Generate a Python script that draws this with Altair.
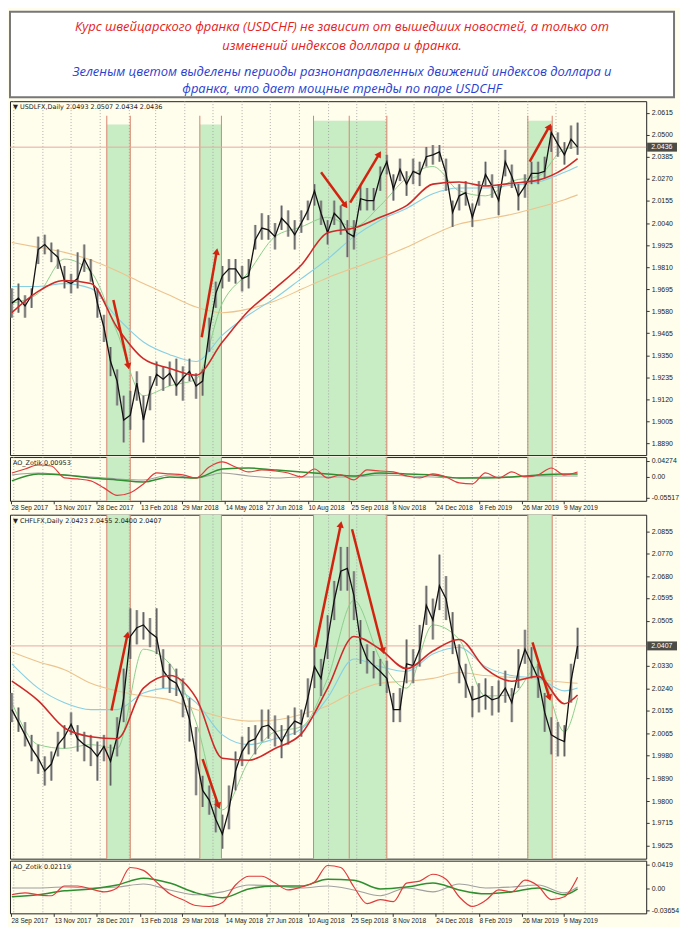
import altair as alt
import pandas as pd

# ---------------- texts ----------------
TITLE_RED = ["Курс швейцарского франка (USDCHF) не зависит от вышедших новостей, а только от",
             "изменений индексов доллара и франка."]
TITLE_BLUE = ["Зеленым цветом выделены периоды разнонаправленных движений индексов доллара и",
              "франка, что дает мощные тренды по паре USDCHF"]
HEADER1 = "▼ USDLFX,Daily  2.0493 2.0507 2.0434 2.0436"
HEADER2 = "▼ CHFLFX,Daily  2.0423 2.0455 2.0400 2.0407"
OSC1_LABEL = "AO_Zotik 0.00953"
OSC2_LABEL = "AO_Zotik 0.02119"

# ---------------- axis ticks ----------------
DATE_TICKS = ["2017-09-28", "2017-11-13", "2017-12-28", "2018-02-13", "2018-03-29", "2018-05-14",
              "2018-06-27", "2018-08-10", "2018-09-25", "2018-11-08", "2018-12-24", "2019-02-08",
              "2019-03-26", "2019-05-09"]
GRID_MONTHS = ["2017-10-01", "2017-11-01", "2017-12-01", "2018-01-01", "2018-02-01", "2018-03-01",
               "2018-04-01", "2018-05-01", "2018-06-01", "2018-07-01", "2018-08-01", "2018-09-01",
               "2018-10-01", "2018-11-01", "2018-12-01", "2019-01-01", "2019-02-01", "2019-03-01",
               "2019-04-01", "2019-05-01", "2019-06-01"]
P1_TICKS = [2.0615, 2.0500, 2.0385, 2.0270, 2.0155, 2.0040, 1.9925, 1.9810, 1.9695, 1.9580,
            1.9465, 1.9350, 1.9235, 1.9120, 1.9005, 1.8890]
P2_TICKS = [2.0855, 2.0770, 2.0680, 2.0595, 2.0505, 2.0330, 2.0240, 2.0155, 2.0065, 1.9980,
            1.9890, 1.9800, 1.9715, 1.9625]
O1_TICKS = [0.04274, 0.0, -0.05517]
O2_TICKS = [0.0419, 0.0, -0.03654]
LAST1 = 2.0436
LAST2 = 2.0407

# ---------------- highlighted periods ----------------
BAND_START = ["2018-01-08", "2018-04-17", "2018-08-16", "2019-04-01"]
BAND_END = ["2018-02-02", "2018-05-10", "2018-11-02", "2019-04-27"]
BAND_TOP1 = [2.0554, 2.0554, 2.0574, 2.0574]
VLINES = ["2018-01-08", "2018-02-02", "2018-04-17", "2018-05-10", "2018-08-16", "2018-09-23",
          "2018-11-02", "2019-04-01", "2019-04-27"]
VLINE_TOP1 = 2.0600

# ---------------- weekly price data ----------------
WEEK_START = "2017-09-29"
P1_CLOSE = [1.9622, 1.9648, 1.9607, 1.9663, 1.9902, 1.9928, 1.9892, 1.9862, 1.9740, 1.9724,
            1.9750, 1.9852, 1.9785, 1.9622, 1.9495, 1.9317, 1.9215, 1.9012, 1.9037, 1.9205,
            1.9012, 1.9164, 1.9251, 1.9225, 1.9256, 1.9190, 1.9231, 1.9266, 1.9190, 1.9215,
            1.9470, 1.9673, 1.9765, 1.9801, 1.9801, 1.9750, 1.9765, 1.9953, 2.0014, 2.0004,
            1.9969, 2.0065, 2.0030, 1.9979, 2.0040, 2.0106, 2.0208, 2.0091, 1.9989, 2.0091,
            2.0055, 1.9989, 1.9969, 2.0167, 2.0157, 2.0157, 2.0284, 2.0360, 2.0218, 2.0320,
            2.0243, 2.0310, 2.0294, 2.0386, 2.0396, 2.0411, 2.0299, 2.0096, 2.0182, 2.0198,
            2.0070, 2.0182, 2.0294, 2.0233, 2.0157, 2.0360, 2.0284, 2.0182, 2.0233, 2.0299,
            2.0299, 2.0310, 2.0513, 2.0452, 2.0396, 2.0478, 2.0436]
P1_HIGH = [1.9699, 1.9724, 1.9663, 1.9699, 1.9969, 1.9979, 1.9938, 1.9902, 1.9816, 1.9775,
           1.9887, 1.9928, 1.9852, 1.9699, 1.9561, 1.9393, 1.9276, 1.9139, 1.9164, 1.9266,
           1.9139, 1.9241, 1.9317, 1.9292, 1.9317, 1.9332, 1.9292, 1.9332, 1.9256, 1.9276,
           1.9546, 1.9734, 1.9816, 1.9852, 1.9852, 1.9816, 1.9852, 2.0030, 2.0091, 2.0081,
           2.0040, 2.0131, 2.0106, 2.0055, 2.0106, 2.0157, 2.0243, 2.0157, 2.0055, 2.0157,
           2.0131, 2.0055, 2.0055, 2.0233, 2.0223, 2.0223, 2.0335, 2.0396, 2.0294, 2.0376,
           2.0310, 2.0376, 2.0360, 2.0437, 2.0447, 2.0447, 2.0376, 2.0157, 2.0243, 2.0259,
           2.0142, 2.0259, 2.0360, 2.0294, 2.0243, 2.0422, 2.0345, 2.0243, 2.0294, 2.0360,
           2.0360, 2.0386, 2.0549, 2.0513, 2.0462, 2.0549, 2.0564]
P1_LOW = [1.9546, 1.9572, 1.9546, 1.9597, 1.9826, 1.9877, 1.9836, 1.9801, 1.9699, 1.9673,
          1.9699, 1.9785, 1.9734, 1.9546, 1.9419, 1.9241, 1.9088, 1.8895, 1.8961, 1.9113,
          1.8895, 1.9063, 1.9190, 1.9164, 1.9190, 1.9139, 1.9113, 1.9215, 1.9123, 1.9139,
          1.9368, 1.9597, 1.9699, 1.9734, 1.9724, 1.9683, 1.9699, 1.9902, 1.9953, 1.9953,
          1.9902, 2.0004, 1.9969, 1.9902, 1.9989, 2.0055, 2.0131, 2.0030, 1.9928, 2.0030,
          1.9979, 1.9862, 1.9902, 2.0106, 2.0106, 2.0106, 2.0208, 2.0294, 2.0157, 2.0259,
          2.0182, 2.0243, 2.0233, 2.0335, 2.0345, 2.0360, 2.0208, 2.0020, 2.0106, 2.0131,
          2.0020, 2.0131, 2.0233, 2.0172, 2.0081, 2.0284, 2.0223, 2.0106, 2.0172, 2.0243,
          2.0243, 2.0274, 2.0411, 2.0386, 2.0345, 2.0427, 2.0396]

P2_CLOSE = [2.0158, 2.0109, 2.0059, 2.0006, 1.9968, 1.9918, 1.9945, 2.0021, 2.0052, 2.0101,
            2.0044, 2.0021, 2.0006, 1.9975, 2.0014, 1.9956, 2.0052, 2.0204, 2.0444, 2.0478,
            2.0489, 2.0459, 2.0440, 2.0310, 2.0276, 2.0261, 2.0204, 2.0120, 1.9975, 1.9842,
            1.9804, 1.9728, 1.9671, 1.9766, 1.9918, 1.9994, 2.0033, 2.0044, 2.0090, 2.0097,
            2.0071, 2.0033, 2.0082, 2.0113, 2.0101, 2.0204, 2.0326, 2.0280, 2.0432, 2.0585,
            2.0699, 2.0710, 2.0604, 2.0421, 2.0356, 2.0330, 2.0307, 2.0280, 2.0158, 2.0158,
            2.0337, 2.0330, 2.0394, 2.0566, 2.0508, 2.0642, 2.0592, 2.0451, 2.0337, 2.0269,
            2.0196, 2.0204, 2.0215, 2.0196, 2.0204, 2.0242, 2.0185, 2.0310, 2.0394, 2.0337,
            2.0280, 2.0147, 2.0059, 2.0044, 2.0033, 2.0269, 2.0407]
P2_HIGH = [2.0223, 2.0166, 2.0109, 2.0059, 2.0021, 1.9975, 1.9994, 2.0071, 2.0097, 2.0147,
           2.0097, 2.0071, 2.0059, 2.0033, 2.0059, 2.0021, 2.0128, 2.0318, 2.0554, 2.0547,
           2.0539, 2.0516, 2.0554, 2.0394, 2.0337, 2.0318, 2.0280, 2.0204, 2.0090, 1.9899,
           1.9861, 1.9804, 1.9747, 1.9861, 1.9994, 2.0052, 2.0090, 2.0097, 2.0158, 2.0158,
           2.0135, 2.0097, 2.0135, 2.0166, 2.0158, 2.0280, 2.0402, 2.0356, 2.0527, 2.0661,
           2.0794, 2.0794, 2.0699, 2.0508, 2.0413, 2.0387, 2.0356, 2.0349, 2.0223, 2.0242,
           2.0432, 2.0394, 2.0489, 2.0642, 2.0592, 2.0764, 2.0680, 2.0539, 2.0413, 2.0337,
           2.0250, 2.0261, 2.0280, 2.0250, 2.0272, 2.0310, 2.0242, 2.0394, 2.0470, 2.0402,
           2.0337, 2.0223, 2.0128, 2.0109, 2.0097, 2.0337, 2.0478]
P2_LOW = [2.0109, 2.0071, 2.0014, 1.9956, 1.9907, 1.9861, 1.9880, 1.9975, 2.0006, 2.0059,
          1.9994, 1.9956, 1.9937, 1.9880, 1.9956, 1.9861, 1.9975, 2.0109, 2.0356, 2.0413,
          2.0432, 2.0402, 2.0375, 2.0242, 2.0223, 2.0211, 2.0128, 2.0033, 1.9823, 1.9777,
          1.9747, 1.9678, 1.9614, 1.9690, 1.9842, 1.9937, 1.9983, 1.9983, 2.0033, 2.0044,
          2.0014, 1.9968, 2.0021, 2.0059, 2.0052, 2.0128, 2.0242, 2.0211, 2.0356, 2.0508,
          2.0623, 2.0623, 2.0508, 2.0337, 2.0299, 2.0280, 2.0250, 2.0223, 2.0109, 2.0109,
          2.0261, 2.0261, 2.0326, 2.0489, 2.0432, 2.0547, 2.0508, 2.0375, 2.0261, 2.0204,
          2.0128, 2.0147, 2.0158, 2.0135, 2.0147, 2.0185, 2.0109, 2.0242, 2.0337, 2.0280,
          2.0204, 2.0071, 1.9983, 1.9975, 1.9975, 2.0185, 2.0356]

# moving averages, read every 4th week (+ last week)
P1_MA_RED = [1.9572, 1.9683, 1.9740, 1.9724, 1.9495, 1.9332, 1.9281, 1.9246, 1.9419, 1.9582, 1.9699,
             1.9821, 1.9989, 2.0014, 2.0070, 2.0131, 2.0243, 2.0254, 2.0233, 2.0248, 2.0264, 2.0325, 2.0376]
P1_MA_BLUE = [1.9709, 1.9709, 1.9724, 1.9699, 1.9546, 1.9419, 1.9353, 1.9317, 1.9455, 1.9561, 1.9648,
              1.9750, 1.9852, 1.9969, 2.0055, 2.0116, 2.0193, 2.0223, 2.0223, 2.0238, 2.0254, 2.0305, 2.0335]
P1_MA_ORANGE = [1.9938, 1.9913, 1.9887, 1.9847, 1.9790, 1.9724, 1.9663, 1.9602, 1.9572, 1.9592, 1.9633,
                1.9694, 1.9755, 1.9806, 1.9857, 1.9913, 1.9979, 2.0035, 2.0060, 2.0086, 2.0121, 2.0162, 2.0187]
P1_MA_GREEN = [1.9622, 1.9673, 1.9852, 1.9785, 1.9470, 1.9139, 1.9190, 1.9225, 1.9622, 1.9785, 1.9969,
               2.0020, 2.0070, 2.0020, 2.0131, 2.0274, 2.0335, 2.0208, 2.0182, 2.0259, 2.0284, 2.0427, 2.0437]
P2_MA_RED = [2.0269, 2.0193, 2.0086, 2.0052, 2.0044, 2.0242, 2.0291, 2.0204, 1.9968, 1.9960, 2.0006,
             2.0063, 2.0242, 2.0444, 2.0394, 2.0318, 2.0387, 2.0432, 2.0318, 2.0269, 2.0288, 2.0181, 2.0215]
P2_MA_BLUE = [2.0337, 2.0242, 2.0185, 2.0158, 2.0158, 2.0223, 2.0242, 2.0185, 2.0059, 2.0021, 2.0044,
              2.0082, 2.0204, 2.0356, 2.0326, 2.0307, 2.0375, 2.0402, 2.0326, 2.0291, 2.0280, 2.0231, 2.0242]
P2_MA_ORANGE = [2.0383, 2.0345, 2.0314, 2.0261, 2.0231, 2.0211, 2.0196, 2.0158, 2.0128, 2.0113, 2.0117,
                2.0139, 2.0173, 2.0227, 2.0261, 2.0269, 2.0280, 2.0303, 2.0291, 2.0284, 2.0276, 2.0265, 2.0261]
P2_MA_GREEN = [2.0185, 2.0021, 2.0006, 2.0021, 2.0006, 2.0394, 2.0337, 2.0109, 1.9766, 1.9956, 2.0071,
               2.0090, 2.0280, 2.0585, 2.0356, 2.0242, 2.0489, 2.0432, 2.0211, 2.0215, 2.0326, 2.0071, 2.0204]

# oscillators: red read every 2nd week, green/gray every 4th week (+ last)
O1_RED = [0.0106, 0.0212, 0.0318, 0.0292, -0.0027, -0.0053, -0.0106, -0.0292, -0.0490, -0.0420,
          -0.0186, 0.0106, 0.0080, 0.0053, -0.0027, 0.0265, 0.0400, 0.0265, 0.0133, 0.0186,
          0.0159, 0.0106, 0.0, 0.0212, -0.0027, 0.0053, -0.0080, 0.0186, 0.0159, 0.0133,
          0.0027, -0.0027, 0.0080, 0.0, -0.0159, -0.0186, 0.0106, -0.0027, 0.0133, 0.0,
          0.0053, 0.0239, 0.0053, 0.0133]
O1_GREEN = [-0.0106, 0.0080, 0.0053, -0.0027, -0.0080, -0.0133, 0.0, -0.0027, 0.0212, 0.0239, 0.0186,
            0.0133, 0.0080, 0.0027, 0.0106, 0.0080, 0.0053, -0.0027, -0.0027, 0.0, 0.0053, 0.0080, 0.0080]
O1_GRAY = [0.0053, 0.0106, 0.0053, 0.0, -0.0053, -0.0080, 0.0053, -0.0027, 0.0106, 0.0027, -0.0027,
           0.0, 0.0, 0.0, 0.0053, 0.0027, 0.0, -0.0027, 0.0, 0.0, 0.0027, 0.0027, 0.0027]
O2_RED = [-0.0100, -0.0067, -0.0100, -0.0117, 0.0050, 0.0050, 0.0, -0.0050, 0.0017, 0.0367,
          0.0317, 0.0117, -0.0084, -0.0184, -0.0284, -0.0301, -0.0234, 0.0067, 0.0217, 0.0217,
          0.0100, -0.0017, 0.0033, 0.0117, 0.0401, 0.0367, 0.0033, -0.0251, -0.0184, -0.0217,
          0.0100, 0.0134, 0.0251, 0.0167, -0.0134, -0.0301, -0.0200, -0.0017, -0.0050, 0.0150,
          0.0050, -0.0184, -0.0134, 0.0200]
O2_GREEN = [-0.0134, -0.0100, -0.0033, 0.0, 0.0067, 0.0184, 0.0100, -0.0067, -0.0150, 0.0, 0.0050,
            0.0050, 0.0167, 0.0150, 0.0, 0.0033, 0.0100, -0.0017, -0.0084, -0.0050, 0.0017, -0.0100, 0.0]
O2_GRAY = [0.0017, 0.0017, 0.0033, 0.0017, 0.0033, 0.0084, -0.0017, -0.0100, -0.0050, 0.0067, 0.0050,
           0.0017, 0.0050, -0.0017, -0.0117, 0.0017, -0.0050, 0.0084, 0.0017, 0.0033, 0.0067, -0.0067, 0.0033]

# trend arrows (start/end date and price)
A1_X = ["2018-01-15", "2018-04-19", "2018-08-24", "2018-09-24", "2019-04-03"]
A1_X2 = ["2018-01-31", "2018-05-05", "2018-09-19", "2018-10-25", "2019-04-24"]
A1_Y = [1.9638, 1.9444, 2.0305, 2.0147, 2.0360]
A1_Y2 = [1.9292, 1.9892, 2.0131, 2.0401, 2.0544]
A1_ANGLE = [167, 10, 144, 31, 29]
A2_X = ["2018-01-13", "2018-04-20", "2018-08-18", "2018-09-26", "2019-04-06"]
A2_X2 = ["2018-01-30", "2018-05-07", "2018-09-14", "2018-10-29", "2019-04-24"]
A2_Y = [2.0154, 1.9964, 2.0402, 2.0863, 2.0421]
A2_Y2 = [2.0451, 1.9781, 2.0882, 2.0387, 2.0204]
A2_ANGLE = [12, 160, 12, 166, 162]

# ---------------- layout / style ----------------
W = 640
TW = 668
TH = 86
H1, HO1 = 356, 44
H2, HO2 = 346, 53
DOM1 = [1.8829, 2.0676]
DOMO1 = [-0.0636, 0.0530]
DOM2 = [1.9575, 2.0920]
DOMO2 = [-0.0418, 0.0484]

BG = "#fffdec"
BAND = "#c8ecc4"
VLINE = "#d9826e"
GRID = "#9b9b9b"
PRICE_LINE = "#eaa9a0"
MA_RED = "#cf2a2a"
MA_BLUE = "#86d0e4"
MA_ORANGE = "#ecc48e"
MA_GREEN = "#8ccf8c"
BAR = "#999999"
CLOSE = "#111111"
ARROW = "#d2230f"
OSC_RED = "#e03c3c"
OSC_GREEN = "#2f8f2f"
OSC_GRAY = "#a0a0a0"
FONT = "DejaVu Sans"
AXFONT = "Liberation Sans"

weeks = pd.date_range(WEEK_START, periods=len(P1_CLOSE), freq="7D")
ma_dates = list(weeks[::4]) + [weeks[-1]]
osc_dates = list(weeks[::2])


def dt(s):
    t = pd.Timestamp(s)
    return alt.DateTime(year=t.year, month=t.month, date=t.day)


X_DOMAIN = [alt.DateTime(year=2017, month=9, date=27), alt.DateTime(year=2019, month=8, date=5)]
DATE_AXIS = alt.Axis(values=[dt(s) for s in DATE_TICKS], format="%-d %b %Y", labelAlign="left",
                     labelFlush=False, labelOverlap=False, labelFontSize=6.5, labelFont=AXFONT,
                     labelColor="#222", tickSize=3, tickColor="#333", domain=False, grid=False,
                     labelPadding=1)


def X(field, axis):
    return alt.X(field, type="temporal", scale=alt.Scale(domain=X_DOMAIN), axis=axis, title=None)


def X2(field):
    return alt.X2(field)


def Y(field, dom, axis):
    return alt.Y(field, type="quantitative", scale=alt.Scale(domain=dom, nice=False, zero=False),
                 axis=axis, title=None)


def price_axis(ticks):
    return alt.Axis(orient="right", values=ticks, format=".4f", labelFontSize=7, labelFont=AXFONT,
                    labelColor="#222", tickSize=3, tickColor="#333", domain=False, grid=False,
                    labelPadding=2, labelOverlap=False)


def osc_axis(ticks):
    return alt.Axis(orient="right", values=ticks,
                    labelExpr="datum.value == 0 ? '0.00' : toString(datum.value)",
                    labelFontSize=7, labelFont=AXFONT, labelColor="#222", tickSize=3,
                    tickColor="#333", domain=False, grid=False, labelPadding=2, labelOverlap=False)


def ts(lst):
    return pd.to_datetime(lst)


bands_df = pd.DataFrame({"s": ts(BAND_START), "e": ts(BAND_END), "top": BAND_TOP1})
vl_df = pd.DataFrame({"d": ts(VLINES), "top": [VLINE_TOP1] * len(VLINES)})
grid_df = pd.DataFrame({"d": ts(GRID_MONTHS)})


def main_panel(close, high, low, ma_r, ma_b, ma_o, ma_g, last, header, ticks, dom, H,
               ax_x, ax_x2, ax_y, ax_y2, ax_ang, band_full):
    yax = price_axis(ticks)
    bars = pd.DataFrame({"d": weeks, "c": close, "h": high, "l": low})
    ma = pd.DataFrame({"d": ma_dates, "r": ma_r, "b": ma_b, "o": ma_o, "g": ma_g})
    arr = pd.DataFrame({"x": ts(ax_x), "x2": ts(ax_x2), "y": ax_y, "y2": ax_y2, "a": ax_ang})
    last_df = pd.DataFrame({"p": [last], "lbl": [f"{last:.4f}"]})

    if band_full:
        band = alt.Chart(bands_df).mark_rect(color=BAND).encode(
            x=X("s", None), x2=X2("e"), y=alt.value(0), y2=alt.value(H))
        vl = alt.Chart(vl_df).mark_rule(color=VLINE, strokeWidth=1).encode(x=X("d", None))
    else:
        band = alt.Chart(bands_df).mark_rect(color=BAND).encode(
            x=X("s", None), x2=X2("e"), y=Y("top", dom, yax), y2=alt.value(H))
        vl = alt.Chart(vl_df).mark_rule(color=VLINE, strokeWidth=1).encode(
            x=X("d", None), y=Y("top", dom, yax), y2=alt.value(H))
    grid = alt.Chart(grid_df).mark_rule(color=GRID, strokeDash=[1, 2], strokeWidth=0.8).encode(
        x=X("d", None))
    pline = alt.Chart(last_df).mark_rule(color=PRICE_LINE, strokeWidth=1).encode(y=Y("p", dom, yax))

    def ma_line(col, color, w):
        return alt.Chart(ma).mark_line(color=color, strokeWidth=w, interpolate="monotone", clip=True).encode(
            x=X("d", None), y=Y(col, dom, yax))

    ranges = alt.Chart(bars).mark_rule(color=BAR, strokeWidth=2.8, opacity=0.8).encode(
        x=X("d", None), y=Y("l", dom, yax), y2="h")
    wicks = alt.Chart(bars).mark_rule(color="#4a4a4a", strokeWidth=0.8).encode(
        x=X("d", None), y=Y("l", dom, yax), y2="h")
    cl = alt.Chart(bars).mark_line(color=CLOSE, strokeWidth=1.3).encode(
        x=X("d", None), y=Y("c", dom, yax))
    shaft = alt.Chart(arr).mark_rule(color=ARROW, strokeWidth=2.5, clip=True).encode(
        x=X("x", None), x2=X2("x2"), y=Y("y", dom, yax), y2="y2")
    head = alt.Chart(arr).mark_point(shape="triangle-up", filled=True, color=ARROW, size=55,
                                     opacity=1).encode(
        x=X("x2", None), y=Y("y2", dom, yax), angle=alt.Angle("a:Q", scale=None))
    hdr = alt.Chart(pd.DataFrame({"t": [header]})).mark_text(
        align="left", baseline="top", fontSize=6.5, font=FONT, color="#222").encode(
        x=alt.value(3), y=alt.value(3), text="t:N")
    tag = alt.Chart(last_df).mark_tick(orient="horizontal", color="#000", size=30, thickness=9).encode(
        x=alt.value(W + 16), y=Y("p", dom, yax))
    tag_t = alt.Chart(last_df).mark_text(align="left", baseline="middle", color="white",
                                         fontSize=7, font=AXFONT).encode(
        x=alt.value(W + 5), y=Y("p", dom, yax), text="lbl:N")

    return alt.layer(band, grid, vl, pline,
                     ma_line("o", MA_ORANGE, 1.1), ma_line("b", MA_BLUE, 1.1),
                     ma_line("g", MA_GREEN, 1.0),
                     ranges, wicks, cl, ma_line("r", MA_RED, 1.6),
                     shaft, head, hdr, tag, tag_t).properties(width=W, height=H)


def osc_panel(red, green, gray, label, ticks, dom, H, with_bands):
    yax = osc_axis(ticks)
    rdf = pd.DataFrame({"d": osc_dates, "v": red})
    gdf = pd.DataFrame({"d": ma_dates, "g": green, "s": gray})
    layers = []
    if with_bands:
        layers.append(alt.Chart(bands_df).mark_rect(color=BAND).encode(
            x=X("s", DATE_AXIS), x2=X2("e"), y=alt.value(0), y2=alt.value(H)))
    layers.append(alt.Chart(grid_df).mark_rule(color=GRID, strokeDash=[1, 2], strokeWidth=0.8).encode(
        x=X("d", DATE_AXIS)))
    if with_bands:
        layers.append(alt.Chart(vl_df).mark_rule(color=VLINE, strokeWidth=1).encode(
            x=X("d", DATE_AXIS)))
    layers.append(alt.Chart(gdf).mark_line(color=OSC_GRAY, strokeWidth=1.1, interpolate="monotone").encode(
        x=X("d", DATE_AXIS), y=Y("s", dom, yax)))
    layers.append(alt.Chart(gdf).mark_line(color=OSC_GREEN, strokeWidth=1.5, interpolate="monotone").encode(
        x=X("d", DATE_AXIS), y=Y("g", dom, yax)))
    layers.append(alt.Chart(rdf).mark_line(color=OSC_RED, strokeWidth=1.2, interpolate="monotone").encode(
        x=X("d", DATE_AXIS), y=Y("v", dom, yax)))
    layers.append(alt.Chart(pd.DataFrame({"t": [label]})).mark_text(
        align="left", baseline="top", fontSize=6.5, font=FONT, color="#222").encode(
        x=alt.value(3), y=alt.value(3), text="t:N"))
    return alt.layer(*layers).properties(width=W, height=H)


# ---------------- title box ----------------
title_layers = []
for txt, ypos in zip(TITLE_RED, [15, 35]):
    title_layers.append(alt.Chart(pd.DataFrame({"t": [txt]})).mark_text(
        font="Open Sans", fontStyle="italic", fontSize=13, color="#e3231b",
        align="center", baseline="middle").encode(x=alt.value(TW / 2), y=alt.value(ypos), text="t:N"))
for txt, ypos in zip(TITLE_BLUE, [61, 78]):
    title_layers.append(alt.Chart(pd.DataFrame({"t": [txt]})).mark_text(
        font="Open Sans", fontStyle="italic", fontSize=13, color="#2a3fd0",
        align="center", baseline="middle").encode(x=alt.value(TW / 2), y=alt.value(ypos), text="t:N"))
title = alt.layer(*title_layers).properties(
    width=TW, height=TH, view=alt.ViewBackground(fill="white", stroke="#777777", strokeWidth=2))

p1_main = main_panel(P1_CLOSE, P1_HIGH, P1_LOW, P1_MA_RED, P1_MA_BLUE, P1_MA_ORANGE, P1_MA_GREEN,
                     LAST1, HEADER1, P1_TICKS, DOM1, H1, A1_X, A1_X2, A1_Y, A1_Y2, A1_ANGLE, False)
p1_osc = osc_panel(O1_RED, O1_GREEN, O1_GRAY, OSC1_LABEL, O1_TICKS, DOMO1, HO1, True)
p2_main = main_panel(P2_CLOSE, P2_HIGH, P2_LOW, P2_MA_RED, P2_MA_BLUE, P2_MA_ORANGE, P2_MA_GREEN,
                     LAST2, HEADER2, P2_TICKS, DOM2, H2, A2_X, A2_X2, A2_Y, A2_Y2, A2_ANGLE, True)
p2_osc = osc_panel(O2_RED, O2_GREEN, O2_GRAY, OSC2_LABEL, O2_TICKS, DOMO2, HO2, False)

chart = alt.vconcat(
    title,
    alt.vconcat(p1_main, p1_osc, spacing=0),
    alt.vconcat(p2_main, p2_osc, spacing=0),
    spacing=2,
).configure(background=BG, padding=0).configure_view(fill=BG, stroke="#222222", strokeWidth=1)

chart.save("out.html", embed_options={"renderer": "svg", "actions": False})
